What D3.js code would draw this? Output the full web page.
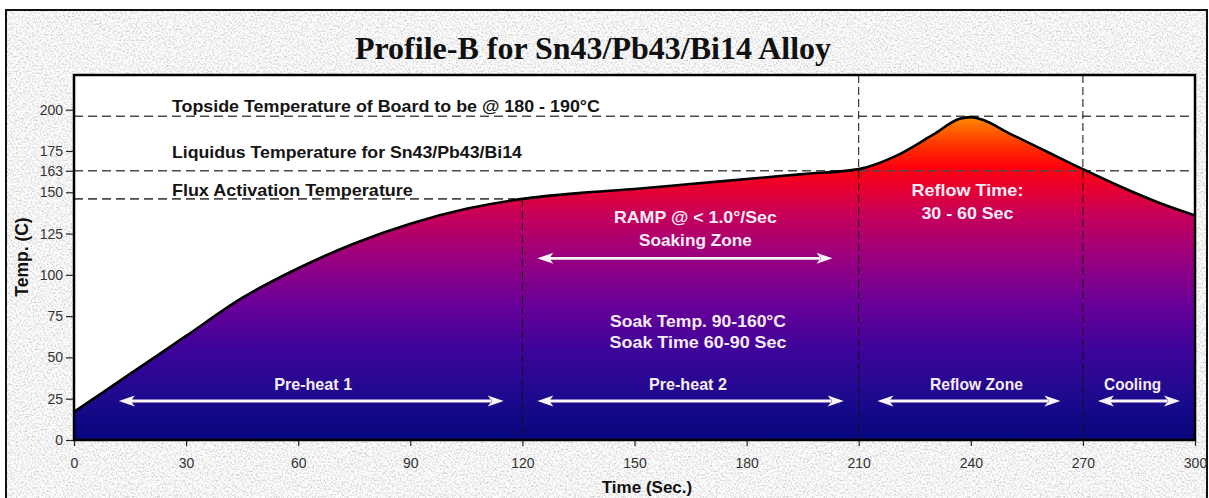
<!DOCTYPE html>
<html>
<head>
<meta charset="utf-8">
<script src="https://cdn.jsdelivr.net/npm/d3@7"></script>
<style>
  html, body { margin: 0; padding: 0; background: #fff; }
  svg { display: block; }
</style>
</head>
<body>
<div id="chart"></div>
<script>
// reflow profile (time in sec, temp in C)
var times = [0, 15, 30, 45, 60, 75, 90, 105, 120, 135, 150, 165, 180, 195, 210, 220, 230, 237, 240, 243, 250, 260, 270, 280, 290, 300];
var temps = [17, 40, 63, 86, 104, 119, 131, 140, 146, 149.5, 152, 155, 158, 161, 164, 172, 185, 194.5, 195.5, 194, 186, 175, 164, 153.5, 144, 136];

var xTicks = [0, 30, 60, 90, 120, 150, 180, 210, 240, 270, 300];
var yTicks = [0, 25, 50, 75, 100, 125, 150, 163, 175, 200];

var title = "Profile-B for Sn43/Pb43/Bi14 Alloy";
var xTitle = "Time (Sec.)";
var yTitle = "Temp. (C)";

// reference temperatures (dashed) and zone borders
var refTemps = [196, 163, 146];
var refEnds = [300, 300, 118];
var zoneBorders = [120, 210, 270];
var zoneStarts = [146, 221, 221];

// black labels above the reference lines: text, temp of baseline
var refLabels = ["Topside Temperature of Board to be @ 180 - 190\u00b0C", "Liquidus Temperature for Sn43/Pb43/Bi14", "Flux Activation Temperature"];
var refLabelT = [198.8, 171, 148];

// white zone texts: text, centre time, baseline temp
var zoneTexts = ["RAMP @ < 1.0\u00b0/Sec", "Soaking Zone", "Soak Temp. 90-160\u00b0C", "Soak Time 60-90 Sec", "Pre-heat 1", "Pre-heat 2", "Reflow Zone", "Cooling", "Reflow Time:", "30 - 60 Sec"];
var zoneTextAt = [166.3, 166.3, 167, 167, 64, 164.3, 241.5, 283.3, 239.1, 239.1];
var zoneTextT = [131.5, 117.5, 68.5, 55.5, 30.5, 30.5, 30.5, 30.5, 147.5, 134];

// double arrows: from, to (sec), at temp
var arrowFrom = [12, 124, 124, 215, 274];
var arrowTo = [115, 203, 206, 264, 296];
var arrowT = [23.6, 110, 23.6, 23.6, 23.6];

var svgWidth = 1209, svgHeight = 498;
var plot = { left: 74, right: 1195, top: 75, bottom: 440 };

var svg = d3.select("#chart").append("svg")
  .attr("width", svgWidth)
  .attr("height", svgHeight);

var defs = svg.append("defs");

// granite-ish background texture
var granite = defs.append("filter").attr("id", "granite")
  .attr("x", 0).attr("y", 0).attr("width", "100%").attr("height", "100%");
granite.append("feTurbulence")
  .attr("type", "fractalNoise").attr("baseFrequency", 0.55)
  .attr("numOctaves", 3).attr("seed", 7).attr("result", "noise");
granite.append("feColorMatrix").attr("in", "noise").attr("type", "matrix")
  .attr("values", "0.9 0 0 0 0.45  0.9 0 0 0 0.45  0.9 0 0 0 0.45  0 0 0 0 1");

var x = d3.scaleLinear().domain([0, 300]).range([plot.left, plot.right]);
var y = d3.scaleLinear().domain([0, 221]).range([plot.bottom, plot.top]);

// fill gradient along temperature
var grad = defs.append("linearGradient").attr("id", "heat")
  .attr("gradientUnits", "userSpaceOnUse")
  .attr("x1", 0).attr("x2", 0)
  .attr("y1", y(0)).attr("y2", y(196));
[[0, "#06067c"], [0.12, "#1a0a8c"], [0.28, "#3e049a"], [0.42, "#6a0098"],
 [0.56, "#980080"], [0.7, "#c80058"], [0.78, "#e8002e"], [0.84, "#ff0010"],
 [0.9, "#ff2a00"], [1, "#ff8a00"]].forEach(function (s) {
  grad.append("stop").attr("offset", s[0]).attr("stop-color", s[1]);
});

// background + frame
svg.append("rect").attr("width", svgWidth).attr("height", svgHeight).attr("fill", "#fff");
svg.append("rect")
  .attr("x", 6).attr("y", 10).attr("width", 1201).attr("height", 500)
  .attr("filter", "url(#granite)");
svg.append("rect")
  .attr("x", 6).attr("y", 10).attr("width", 1201).attr("height", 500)
  .attr("fill", "none").attr("stroke", "#111").attr("stroke-width", 2);

svg.append("text")
  .attr("x", 593).attr("y", 59)
  .attr("text-anchor", "middle")
  .style("font-family", "'Liberation Serif', 'Times New Roman', serif")
  .style("font-weight", "bold").style("font-size", "32px")
  .attr("fill", "#111")
  .text(title);

// plot area
svg.append("rect")
  .attr("x", plot.left).attr("y", plot.top)
  .attr("width", plot.right - plot.left).attr("height", plot.bottom - plot.top)
  .attr("fill", "#fff");

var data = times.map(function (t, i) { return { t: t, v: temps[i] }; });

var area = d3.area()
  .x(function (d) { return x(d.t); })
  .y0(y(0))
  .y1(function (d) { return y(d.v); })
  .curve(d3.curveMonotoneX);

var line = d3.line()
  .x(function (d) { return x(d.t); })
  .y(function (d) { return y(d.v); })
  .curve(d3.curveMonotoneX);

svg.append("path").datum(data).attr("d", area).attr("fill", "url(#heat)");

// dashed reference temperatures
svg.selectAll("line.ref")
  .data(refTemps)
  .join("line")
  .attr("class", "ref")
  .attr("x1", x(0))
  .attr("x2", function (d, i) { return x(refEnds[i]); })
  .attr("y1", function (d) { return y(d); })
  .attr("y2", function (d) { return y(d); })
  .attr("stroke", "#4a4a4a").attr("stroke-width", 1.6)
  .attr("stroke-dasharray", "9,5");

// dashed zone borders
svg.selectAll("line.zone")
  .data(zoneBorders)
  .join("line")
  .attr("class", "zone")
  .attr("x1", function (d) { return x(d); })
  .attr("x2", function (d) { return x(d); })
  .attr("y1", function (d, i) { return y(zoneStarts[i]); })
  .attr("y2", y(0))
  .attr("stroke", "#111").attr("stroke-width", 1)
  .attr("stroke-dasharray", "8,4");

svg.append("path").datum(data).attr("d", line)
  .attr("fill", "none").attr("stroke", "#000").attr("stroke-width", 2.6);

// black labels
var refWidths = [428, 350, 241];
svg.selectAll("text.reflabel")
  .data(refLabels)
  .join("text")
  .attr("class", "reflabel")
  .attr("x", x(26.2))
  .attr("y", function (d, i) { return y(refLabelT[i]); })
  .attr("textLength", function (d, i) { return refWidths[i]; })
  .attr("lengthAdjust", "spacingAndGlyphs")
  .style("font-family", "'Liberation Sans', Arial, sans-serif")
  .style("font-weight", "bold").style("font-size", "17px")
  .attr("fill", "#151515")
  .text(function (d) { return d; });

// white zone texts
var zoneWidths = [163, 113, 176, 177, 78, 78, 93, 57, 112, 92];
svg.selectAll("text.zonetext")
  .data(zoneTexts)
  .join("text")
  .attr("class", "zonetext")
  .attr("x", function (d, i) { return x(zoneTextAt[i]); })
  .attr("y", function (d, i) { return y(zoneTextT[i]); })
  .attr("text-anchor", "middle")
  .attr("textLength", function (d, i) { return zoneWidths[i]; })
  .attr("lengthAdjust", "spacingAndGlyphs")
  .style("font-family", "'Liberation Sans', Arial, sans-serif")
  .style("font-weight", "bold").style("font-size", "17px")
  .attr("fill", "#f6ecf6")
  .text(function (d) { return d; });

// double-headed arrows
function arrowPath(i) {
  var a = x(arrowFrom[i]), b = x(arrowTo[i]), yy = y(arrowT[i]);
  var L = 16, H = 5.5, N = 4;
  return "M" + (a + L - N) + "," + (yy - 1.4) + "H" + (b - L + N) + "V" + (yy + 1.4) + "H" + (a + L - N) + "Z" +
    "M" + a + "," + yy + "L" + (a + L) + "," + (yy - H) + "L" + (a + L - N) + "," + yy + "L" + (a + L) + "," + (yy + H) + "Z" +
    "M" + b + "," + yy + "L" + (b - L) + "," + (yy - H) + "L" + (b - L + N) + "," + yy + "L" + (b - L) + "," + (yy + H) + "Z";
}
svg.selectAll("path.arrow")
  .data(arrowFrom)
  .join("path")
  .attr("class", "arrow")
  .attr("d", function (d, i) { return arrowPath(i); })
  .attr("fill", "#fbf4fb");

// plot border
svg.append("rect")
  .attr("x", plot.left).attr("y", plot.top)
  .attr("width", plot.right - plot.left).attr("height", plot.bottom - plot.top)
  .attr("fill", "none").attr("stroke", "#000").attr("stroke-width", 2.5);

// axes
var leftAxis = d3.axisLeft(y).tickValues(yTicks).tickSize(7).tickPadding(3).tickFormat(d3.format("d"));
var bottomAxis = d3.axisBottom(x).tickValues(xTicks).tickSize(5).tickPadding(12).tickFormat(d3.format("d"));

var gy = svg.append("g").attr("transform", "translate(" + (plot.left - 1) + ",0)").call(leftAxis);
var gx = svg.append("g").attr("transform", "translate(0," + (plot.bottom + 1) + ")").call(bottomAxis);

[gx, gy].forEach(function (g) {
  g.select(".domain").remove();
  g.selectAll("line").attr("stroke", "#222").attr("stroke-width", 1.2);
  g.selectAll("text")
    .style("font-family", "'Liberation Sans', Arial, sans-serif")
    .style("font-size", "14px")
    .attr("fill", "#333");
});

svg.append("text")
  .attr("x", 647).attr("y", 493)
  .attr("text-anchor", "middle")
  .style("font-family", "'Liberation Sans', Arial, sans-serif")
  .style("font-weight", "bold").style("font-size", "17px")
  .attr("fill", "#111")
  .text(xTitle);

svg.append("text")
  .attr("transform", "translate(28,257) rotate(-90)")
  .attr("text-anchor", "middle")
  .style("font-family", "'Liberation Sans', Arial, sans-serif")
  .style("font-weight", "bold").style("font-size", "17.5px")
  .attr("fill", "#111")
  .text(yTitle);
</script>
</body>
</html>
